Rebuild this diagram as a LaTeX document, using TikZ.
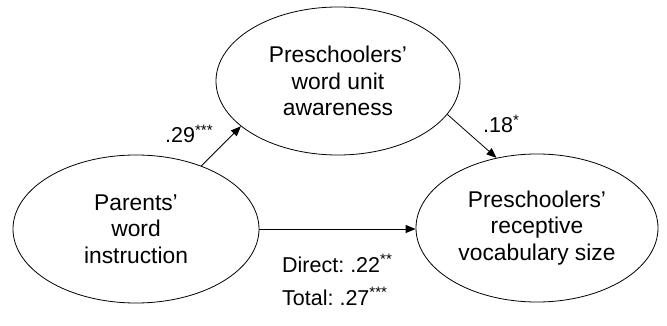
\documentclass[tikz,border=0pt]{standalone}
\usepackage{fontspec}
\setmainfont{Liberation Sans}
\usetikzlibrary{shapes.geometric,arrows.meta}
\frenchspacing
\begin{document}
\begin{tikzpicture}[x=1pt,y=-1pt,
  latent/.style={draw,ellipse,line width=0.8pt,inner sep=0pt,align=center,
    font=\fontsize{22.8}{26.5}\selectfont},
  path/.style={draw,line width=0.8pt,-{Triangle[length=10pt,width=8pt]}},
  coef/.style={inner sep=0pt,anchor=base west,font=\fontsize{21.5}{26}\selectfont}]
\useasboundingbox (0,0) rectangle (667,326);
\node[latent,minimum width=244pt,minimum height=148pt] (aware) at (338,81) {Preschoolers’\\word unit\\awareness};
\node[latent,minimum width=246pt,minimum height=148pt] (parent) at (136,229) {Parents’\\word\\instruction};
\node[latent,minimum width=242pt,minimum height=148pt] (vocab) at (537,228) {Preschoolers’\\receptive\\vocabulary size};
\draw[path] (parent.44.5) -- (aware.205.8);
\draw[path] (aware.-17.2) -- (vocab.120.4);
\draw[path] (parent.east) -- (vocab.west |- parent.east);
\node[coef] (a) at (165,143) {.29\textsuperscript{***}};
\node[coef] (b) at (483,133) {.18\textsuperscript{*}};
\node[coef] (c) at (282,272) {Direct: .22\textsuperscript{**}};
\node[coef] (d) at (282,305) {Total: .27\textsuperscript{***}};
\end{tikzpicture}
\end{document}
